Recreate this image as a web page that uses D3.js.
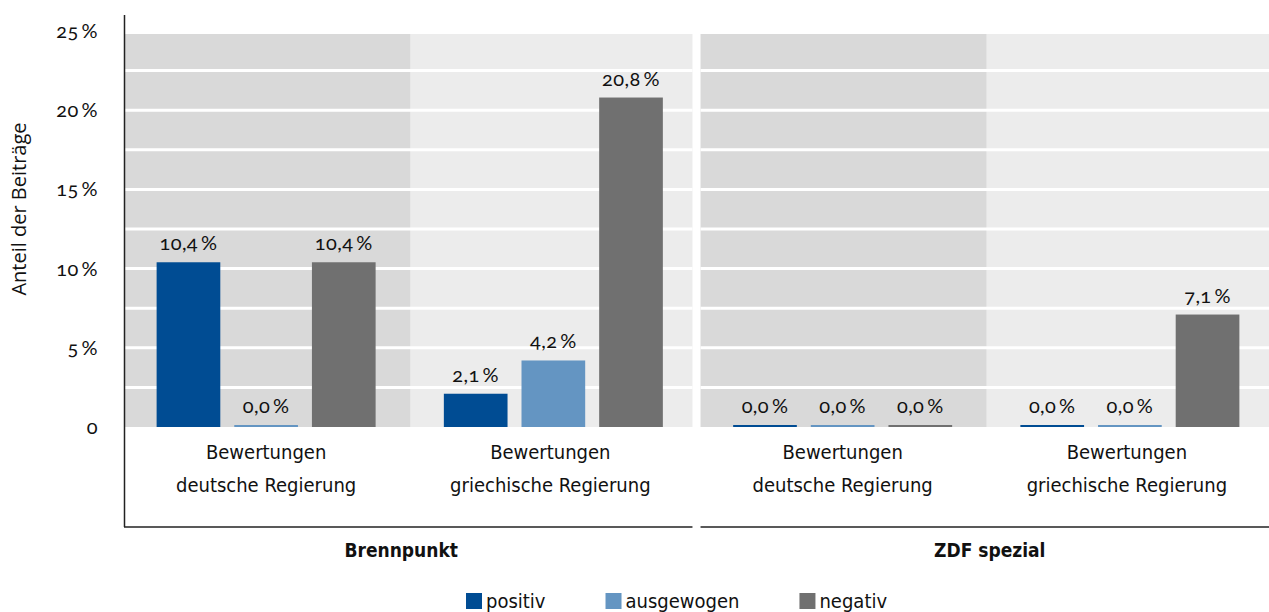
<!DOCTYPE html>
<html lang="de">
<head>
<meta charset="UTF-8">
<title>Bewertungen</title>
<script src="https://d3js.org/d3.v7.min.js"></script>
<style>
  body { margin: 0; background: #fff; }
  svg { display: block; }
  .num { font-family: "Lato", "Open Sans", sans-serif; font-variant-numeric: oldstyle-nums; letter-spacing: 0.4px; }
  .cond { font-family: "DejaVu Sans", sans-serif; font-stretch: condensed; }
</style>
</head>
<body>
<script>
  // DATA
  const panels = ["Brennpunkt", "ZDF spezial"];
  const categories = ["Bewertungen\ndeutsche Regierung", "Bewertungen\ngriechische Regierung"];
  const series = ["positiv", "ausgewogen", "negativ"];
  const brennpunkt = [[10.4, 0.0, 10.4], [2.1, 4.2, 20.8]];
  const zdfSpezial = [[0.0, 0.0, 0.0], [0.0, 0.0, 7.1]];
  const yTicks = [0, 5, 10, 15, 20, 25];
  const colors = ["#004c93", "#6495c2", "#707070"];
  const bandFills = ["#d9d9d9", "#ececec"];

  const values = { "Brennpunkt": brennpunkt, "ZDF spezial": zdfSpezial };

  const W = 1269, H = 612;
  const svg = d3.select("body").append("svg").attr("width", W).attr("height", H);

  // SCALES
  const y = d3.scaleLinear().domain([0, 25]).range([427, 31]);
  const xPanel = d3.scaleBand().domain(panels).range([124, 1269]).paddingInner(0.014);
  const xCat = d3.scaleBand().domain(categories).range([0, xPanel.bandwidth()]);
  const xBar = d3.scaleBand().domain(series).range([0, xCat.bandwidth()]).paddingInner(0.18).paddingOuter(0.42);

  const fmt = v => v.toFixed(1).replace(".", ",") + "\u2009%";
  const catShift = [0, 3];

  panels.forEach((p, pi) => {
    const g = svg.append("g").attr("transform", `translate(${xPanel(p)},0)`);

    // background bands
    categories.forEach((c, i) => {
      g.append("rect")
        .attr("x", xCat(c) + (i === 0 && pi === 0 ? 1 : 0) + (i === 1 ? 2 : 0))
        .attr("y", 34)
        .attr("width", xCat.bandwidth() + (i === 0 ? 2 : -2))
        .attr("height", y(0) - 34)
        .attr("fill", bandFills[i]);
    });

    // white grid lines every 2.5 %
    d3.range(2.5, 25, 2.5).forEach(t => {
      g.append("line")
        .attr("x1", 0).attr("x2", xPanel.bandwidth())
        .attr("y1", y(t)).attr("y2", y(t))
        .attr("stroke", "#fff").attr("stroke-width", 3);
    });

    categories.forEach((c, ci) => {
      const cg = g.append("g").attr("transform", `translate(${xCat(c) + catShift[ci]},0)`);
      const vals = values[p][ci];
      cg.selectAll("rect.bar").data(series).join("rect")
        .attr("class", "bar")
        .attr("x", s => xBar(s))
        .attr("width", xBar.bandwidth())
        .attr("y", (s, i) => Math.min(y(vals[i]), y(0) - 2))
        .attr("height", (s, i) => Math.max(y(0) - y(vals[i]), 2))
        .attr("fill", (s, i) => colors[i]);

      cg.selectAll("text.val").data(series).join("text")
        .attr("class", "val num")
        .attr("x", s => xBar(s) + xBar.bandwidth() / 2)
        .attr("y", (s, i) => Math.min(y(vals[i]), y(0) - 2) - 12)
        .attr("text-anchor", "middle")
        .attr("font-size", 20)
        .attr("fill", "#111")
        .text((s, i) => fmt(vals[i]));

      const lines = c.split("\n");
      const t = cg.append("text")
        .attr("class", "cond")
        .attr("text-anchor", "middle")
        .attr("font-size", 20)
        .attr("fill", "#111");
      lines.forEach((l, li) => {
        t.append("tspan")
          .attr("x", xCat.bandwidth() / 2 - catShift[ci])
          .attr("y", 459 + li * 33)
          .text(l);
      });
    });

    // bottom axis line per panel
    g.append("line")
      .attr("x1", 0).attr("x2", xPanel.bandwidth())
      .attr("y1", 527).attr("y2", 527)
      .attr("stroke", "#222").attr("stroke-width", 1.5);

    g.append("text")
      .attr("class", "cond")
      .attr("x", xPanel.bandwidth() / 2 + (pi === 0 ? -7 : 5))
      .attr("y", 557)
      .attr("text-anchor", "middle")
      .attr("font-size", 19)
      .attr("font-weight", "bold")
      .attr("fill", "#111")
      .text(p);
  });

  // Y AXIS
  svg.append("line")
    .attr("x1", 124.5).attr("x2", 124.5)
    .attr("y1", 15).attr("y2", 527)
    .attr("stroke", "#222").attr("stroke-width", 1.5);

  svg.append("g").selectAll("text").data(yTicks).join("text")
    .attr("class", "num")
    .attr("x", 98)
    .attr("y", d => y(d) + 7)
    .attr("text-anchor", "end")
    .attr("font-size", 20)
    .attr("fill", "#111")
    .text(d => d === 0 ? "0" : d + "\u2009%");

  svg.append("text")
    .attr("font-family", "Open Sans, sans-serif")
    .attr("font-size", 20)
    .attr("fill", "#111")
    .attr("text-anchor", "middle")
    .attr("transform", "translate(26,209) rotate(-90)")
    .text("Anteil der Beiträge");

  // LEGEND
  const leg = svg.append("g").attr("transform", "translate(466,0)");
  let lx = 0;
  series.forEach((s, i) => {
    leg.append("rect")
      .attr("x", lx).attr("y", 593)
      .attr("width", 16).attr("height", 16)
      .attr("fill", colors[i]);
    const t = leg.append("text")
      .attr("class", "cond")
      .attr("x", lx + 20).attr("y", 608)
      .attr("font-size", 20)
      .attr("fill", "#111")
      .text(s);
    lx += 20 + t.node().getComputedTextLength() + 60;
  });
</script>
</body>
</html>
